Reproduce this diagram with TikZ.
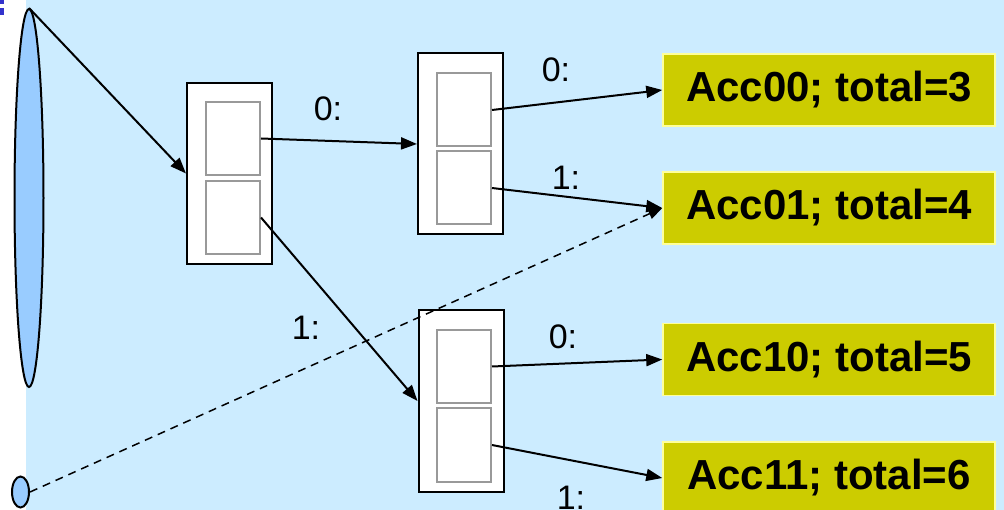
\documentclass[tikz,border=0pt]{standalone}
\usepackage{fontspec}
\setmainfont{Liberation Sans}
\usetikzlibrary{arrows.meta,shapes.geometric}
\definecolor{bgblue}{HTML}{CCECFF}
\definecolor{ellblue}{HTML}{99CCFF}
\definecolor{accyellow}{HTML}{CCCC00}
\definecolor{accborder}{HTML}{FFFF99}
\definecolor{innergray}{HTML}{999999}
\definecolor{markblue}{HTML}{3333CC}
\begin{document}
\begin{tikzpicture}[x=1pt,y=-1pt,
  outerbox/.style={draw=black,line width=2pt,fill=white,minimum width=85pt,minimum height=181pt,inner sep=0pt},
  innerbox/.style={draw=innergray,line width=2pt,fill=white,minimum width=54pt,minimum height=73pt,inner sep=0pt},
  accbox/.style={draw=accborder,line width=1.5pt,fill=accyellow,minimum width=332pt,minimum height=72pt,inner sep=0pt,font=\fontsize{42}{50}\selectfont\bfseries},
  lbl/.style={font=\fontsize{34}{40}\selectfont,inner sep=0pt},
  conn/.style={line width=2pt,-{Triangle[length=16pt,width=12pt]}},
  ell/.style={ellipse,draw=black,line width=2pt,fill=ellblue,inner sep=0pt},
]
\useasboundingbox (0,0) rectangle (1004,510);
\fill[bgblue] (26,0) rectangle (1004,510);
\fill[markblue] (0,0) rectangle (4,4);
\fill[markblue] (0,8) rectangle (4,15);

% lists
\node[ell,minimum width=29pt,minimum height=378pt] (big) at (29,198) {};
\node[ell,minimum width=17pt,minimum height=31pt] (small) at (20.5,492) {};

% box 1
\node[outerbox] (b1) at (229.5,173.5) {};
\node[innerbox] (b1a) at (233,138.5) {};
\node[innerbox] (b1b) at (233,217.5) {};
% box 2
\node[outerbox] (b2) at (460.5,144) {};
\node[innerbox] (b2a) at (464,110) {};
\node[innerbox] (b2b) at (464,188) {};
% box 3
\node[outerbox] (b3) at (461,401) {};
\node[innerbox] (b3a) at (464,366.5) {};
\node[innerbox] (b3b) at (464,445) {};

% accounts
\node[accbox] (a00) at (829,90) {\raisebox{-4pt}{Acc00; total=3}};
\node[accbox] (a01) at (829,208) {\raisebox{-4pt}{Acc01; total=4}};
\node[accbox] (a10) at (829,359.5) {\raisebox{-4pt}{Acc10; total=5}};
\node[accbox] (a11) at (829,478) {\raisebox{-4pt}{Acc11; total=6}};

% labels
\node[lbl] (l1) at (328,109) {0:};
\node[lbl] (l2) at (306,328) {1:};
\node[lbl] (l3) at (556,70) {0:};
\node[lbl] (l4) at (566,178) {1:};
\node[lbl] (l5) at (563,337) {0:};
\node[lbl] (l6) at (571,498) {1:};

% connectors
\draw[conn] (big.north) -- (b1.west);
\draw[conn] (b1a.east) -- (b2.west);
\draw[conn] (b1b.east) -- (b3.west);
\draw[conn] (b2a.east) -- (a00.west);
\draw[conn] (b2b.east) -- (a01.west);
\draw[conn] (b3a.east) -- (a10.west);
\draw[conn] (b3b.east) -- (a11.west);
\draw[line width=1.5pt,dashed,dash pattern=on 8pt off 6pt,-{Triangle[length=14pt,width=11pt]}] (small.east) -- (a01.west);
\end{tikzpicture}
\end{document}
